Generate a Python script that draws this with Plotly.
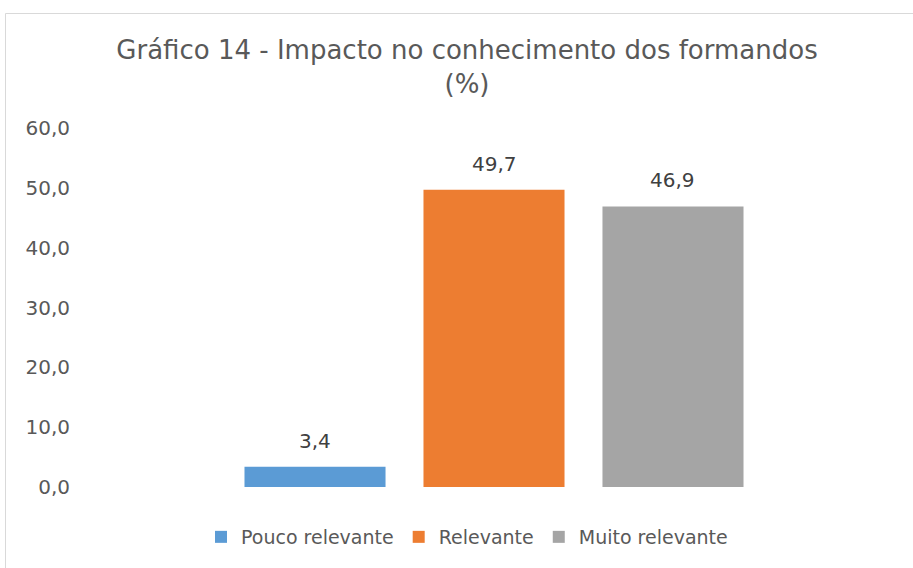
import plotly.graph_objects as go

series = ['Pouco relevante', 'Relevante', 'Muito relevante']
values = [3.4, 49.7, 46.9]
colors = ['#5B9BD5', '#ED7D31', '#A5A5A5']
y_ticks = [0, 10, 20, 30, 40, 50, 60]

FONT = 'DejaVu Sans'

fig = go.Figure()
for name, val, col in zip(series, values, colors):
    fig.add_trace(go.Bar(
        x=[name], y=[val], name=name,
        marker=dict(color=col, line=dict(width=0)),
    ))
    # data label above the bar
    fig.add_annotation(x=name, y=val, text=f'{val:.1f}'.replace('.', ','),
                       showarrow=False, yanchor='bottom', yshift=12,
                       font=dict(family=FONT, size=20, color='#404040'))

# chart border (Excel chart area)
fig.add_shape(type='rect', xref='paper', yref='paper',
              x0=(5.5 - 80) / 828, x1=1.2, y0=-0.5, y1=(487 - 13.5) / 359,
              line=dict(color='#D9D9D9', width=1), fillcolor='rgba(0,0,0,0)')

fig.update_layout(
    width=913, height=568,
    margin=dict(l=80, r=5, t=128, b=81),
    paper_bgcolor='white', plot_bgcolor='white',
    separators=',.',
    font=dict(family=FONT, color='#595959'),
    title=dict(text='Gráfico 14 - Impacto no conhecimento dos formandos<br>(%)',
               x=467 / 913, xanchor='center', y=1 - 59 / 568, yanchor='top',
               font=dict(family=FONT, size=26, color='#595959')),
    barmode='overlay', bargap=0.212,
    showlegend=True,
    legend=dict(orientation='h', x=(467 - 80) / 828, xanchor='center',
                y=(487 - 537) / 359, yanchor='middle',
                font=dict(family=FONT, size=19, color='#595959'),
                traceorder='normal'),
    xaxis=dict(range=[-1.313, 3.313], showticklabels=False, showline=False,
               showgrid=False, zeroline=False),
    yaxis=dict(range=[0, 60], tickvals=y_ticks, tickformat='.1f',
               showgrid=False, zeroline=False, showline=False,
               tickfont=dict(family=FONT, size=20, color='#595959'),
               ticks='', ticklabelstandoff=9),
)

fig.write_html('out.html', config={'displayModeBar': False},
               post_script="document.body.style.margin='0';")
